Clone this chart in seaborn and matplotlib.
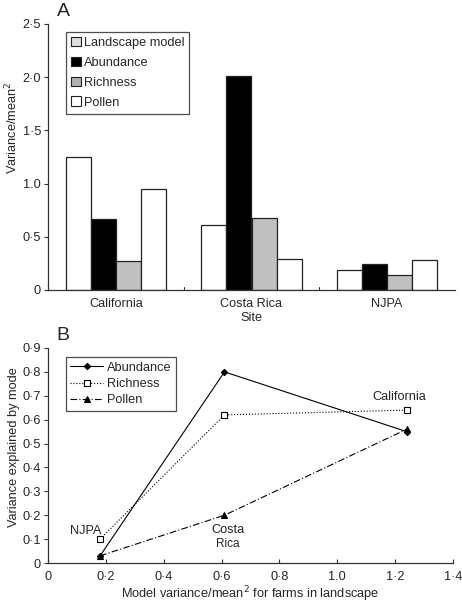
import matplotlib
matplotlib.use("Agg")
import matplotlib.pyplot as plt
import seaborn as sns
import pandas as pd
from matplotlib.patches import Patch
from matplotlib.lines import Line2D

sites = ["California", "Costa Rica", "NJPA"]
bar_series = ["Landscape model", "Abundance", "Richness", "Pollen"]
landscape_model = [1.25, 0.61, 0.19]
abundance_ratio = [0.67, 2.01, 0.24]
richness_ratio = [0.27, 0.68, 0.14]
pollen_ratio = [0.95, 0.29, 0.28]

# Panel B
model_x = [0.18, 0.61, 1.24]  # NJPA, Costa Rica, California
abundance_expl = [0.03, 0.80, 0.55]
richness_expl = [0.10, 0.62, 0.64]
pollen_expl = [0.03, 0.20, 0.56]

yticks_a = [0, 0.5, 1.0, 1.5, 2.0, 2.5]
yticklabels_a = ["0", "0·5", "1.0", "1·5", "2·0", "2·5"]
yticks_b = [0, 0.1, 0.2, 0.3, 0.4, 0.5, 0.6, 0.7, 0.8, 0.9]
yticklabels_b = ["0", "0·1", "0·2", "0·3", "0·4", "0·5", "0·6", "0·7", "0·8", "0·9"]
xticks_b = [0, 0.2, 0.4, 0.6, 0.8, 1.0, 1.2, 1.4]
xticklabels_b = ["0", "0·2", "0·4", "0·6", "0·8", "1.0", "1·2", "1·4"]

sns.set_style("ticks")
plt.rcParams["font.family"] = ["Liberation Sans", "DejaVu Sans"]
plt.rcParams["font.size"] = 9.2

W, H = 462, 605
fig = plt.figure(figsize=(W / 100, H / 100), dpi=100)

def ax_rect(l, t, r, b):
    return [l / W, 1 - b / H, (r - l) / W, (b - t) / H]

axA = fig.add_axes(ax_rect(48, 24, 455, 290))
axB = fig.add_axes(ax_rect(48, 348, 453, 563))

spine_col = "#333333"
bar_fill = {"Landscape model": "white", "Abundance": "black",
            "Richness": "#c0c0c0", "Pollen": "white"}
legend_fill = {"Landscape model": "#dedede", "Abundance": "black",
               "Richness": "#b0b0b0", "Pollen": "white"}

vals = [landscape_model, abundance_ratio, richness_ratio, pollen_ratio]
rows = []
for s, v in zip(bar_series, vals):
    for site, val in zip(sites, v):
        rows.append({"Site": site, "series": s, "value": val})
dfA = pd.DataFrame(rows)

sns.barplot(data=dfA, x="Site", y="value", hue="series", hue_order=bar_series,
            order=sites, palette=bar_fill, width=0.74, edgecolor="#222222",
            linewidth=0.9, saturation=1, ax=axA, legend=False)
axA.set_xlim(-0.5, 2.5)
axA.set_ylim(0, 2.5)
axA.set_yticks(yticks_a)
axA.set_yticklabels(yticklabels_a)
axA.set_xticks([0, 1, 2])
axA.set_xticklabels(sites)
axA.tick_params(axis="x", length=0, pad=6)
axA.tick_params(axis="y", length=3, width=0.8, color=spine_col, pad=2)
for sx in [0.5, 1.5]:
    axA.plot([sx, sx], [0, 0.025], color=spine_col, lw=0.8, clip_on=False)
axA.set_xlabel("Site")
axA.xaxis.set_label_coords(0.5, -0.083)
axA.set_ylabel("Variance/mean$^2$")
axA.yaxis.set_label_coords(-0.069, 0.61)
sns.despine(ax=axA)
for sp in ["left", "bottom"]:
    axA.spines[sp].set_color(spine_col)
    axA.spines[sp].set_linewidth(0.9)

handlesA = [Patch(facecolor=legend_fill[s], edgecolor="#222222", linewidth=0.8, label=s)
            for s in bar_series]
legA = axA.legend(handles=handlesA, loc="upper left", bbox_to_anchor=(0.044, 0.97),
                  borderaxespad=0, frameon=True, fancybox=False, edgecolor="#222222",
                  handlelength=0.75, handleheight=0.75, handletextpad=0.25,
                  labelspacing=0.6, borderpad=0.4, fontsize=9.2)
legA.get_frame().set_linewidth(0.9)

# Panel B
styles = [
    ("Abundance", abundance_expl, "-", "D", "black", 3.2),
    ("Richness", richness_expl, ":", "s", "white", 4.0),
    ("Pollen", pollen_expl, (0, (6, 2, 1, 2)), "^", "black", 4.0),
]
handlesB = []
for name, yv, ls, mk, mfc, ms in styles:
    sns.lineplot(x=model_x, y=yv, ax=axB, color="black", linestyle=ls, lw=0.8,
                 marker=mk, markersize=ms, markerfacecolor=mfc,
                 markeredgecolor="black", markeredgewidth=0.8)
    handlesB.append(Line2D([0], [0], color="black", linestyle=ls, lw=0.8, marker=mk,
                           markersize=ms, markerfacecolor=mfc, markeredgecolor="black",
                           markeredgewidth=0.8, label=name))
axB.set_xlim(0, 1.4)
axB.set_ylim(0, 0.9)
axB.set_xticks(xticks_b)
axB.set_xticklabels(xticklabels_b)
axB.set_yticks(yticks_b)
axB.set_yticklabels(yticklabels_b)
axB.tick_params(axis="x", direction="in", length=3, width=0.8, color=spine_col, pad=6)
axB.tick_params(axis="y", length=3, width=0.8, color=spine_col, pad=2)
sns.despine(ax=axB)
for sp in ["left", "bottom"]:
    axB.spines[sp].set_color(spine_col)
    axB.spines[sp].set_linewidth(0.9)
axB.set_xlabel("Model variance/mean$^2$ for farms in landscape", va="bottom")
axB.xaxis.set_label_coords(0.5, (563 - 604) / 215)
axB.set_ylabel("Variance explained by mode")
axB.yaxis.set_label_coords(-0.069, 0.54)
legB = axB.legend(handles=handlesB, loc="upper left", bbox_to_anchor=(0.044, 0.958),
                  borderaxespad=0, frameon=True, fancybox=False, edgecolor="#222222",
                  handlelength=2.55, handletextpad=0.35, labelspacing=0.35,
                  borderpad=0.35, fontsize=9.2)
legB.get_frame().set_linewidth(0.9)

axB.text(0.131, 0.134, "NJPA", ha="center", va="center", fontsize=9.2)
axB.text(0.622, 0.138, "Costa", ha="center", va="center", fontsize=9.2)
axB.text(0.622, 0.080, "Rica", ha="center", va="center", fontsize=8.5)
axB.text(1.213, 0.695, "California", ha="center", va="center", fontsize=9.2)

fig.text(63 / W, 1 - 12 / H, "A", fontsize=14, ha="center", va="center")
fig.text(63 / W, 1 - 336 / H, "B", fontsize=14, ha="center", va="center")

fig.savefig("out.png", dpi=100)
